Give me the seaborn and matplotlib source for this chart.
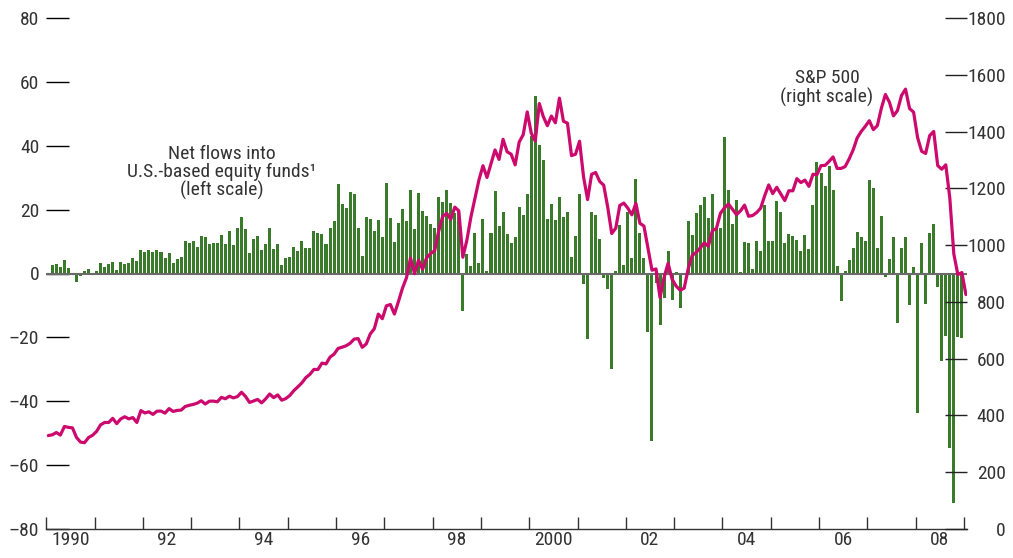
import matplotlib
matplotlib.use('Agg')
import matplotlib.pyplot as plt
import numpy as np
import seaborn as sns

# net flows into U.S.-based equity funds, billions of US$, monthly Jan 1990 - Dec 2008
flows = [
    0.3, 2.7, 3.0, 2.1, 4.3, 1.8, 0.0, -2.8, -0.7, 0.8, 1.5, 0.0,          # 1990
    0.8, 3.3, 2.1, 3.0, 3.6, 1.1, 3.6, 3.0, 3.3, 4.9, 4.0, 7.4,            # 1991
    6.8, 7.4, 6.8, 7.4, 6.8, 4.9, 6.5, 3.3, 4.6, 5.2, 10.2, 9.6,           # 1992
    10.2, 8.3, 11.8, 11.5, 9.1, 9.4, 9.7, 12.2, 9.1, 13.4, 8.8, 14.4,      # 1993
    17.8, 13.8, 6.3, 10.9, 11.6, 7.5, 9.1, 14.1, 7.8, 9.1, 2.8, 5.0,       # 1994
    5.3, 8.4, 7.2, 10.3, 8.1, 8.1, 13.4, 12.8, 12.5, 9.1, 14.1, 16.3,      # 1995
    28.1, 21.9, 20.6, 25.6, 25.0, 14.4, 5.6, 17.8, 17.2, 13.4, 16.9, 11.3, # 1996
    28.4, 17.5, 10.0, 15.9, 20.3, 16.3, 26.3, 13.8, 25.3, 19.7, 18.1, 15.6, # 1997
    14.1, 24.1, 22.5, 26.3, 22.0, 19.0, 20.0, -11.6, 6.2, 2.5, 12.8, 3.4,  # 1998
    17.2, 0.9, 12.8, 25.9, 15.0, 19.1, 12.5, 9.7, 11.3, 20.9, 18.4, 25.0,  # 1999
    43.0, 55.6, 40.3, 35.6, 17.2, 21.9, 16.9, 24.1, 17.8, 19.4, 5.3, 11.6, # 2000
    25.0, -3.2, -20.5, 19.1, 18.4, 10.9, -1.5, -4.9, -29.9, 0.9, 15.3, 2.8, # 2001
    19.4, 4.7, 29.7, 12.8, 5.0, -18.3, -52.4, -3.0, -16.1, -7.8, 6.9, -8.3, # 2002
    0.5, -10.9, 0.3, 16.3, 11.9, 18.8, 21.6, 23.8, 17.5, 25.0, 14.4, 14.4, # 2003
    42.8, 26.3, 15.6, 23.1, 0.6, 10.0, 9.4, 1.3, 10.3, 7.2, 21.6, 10.3,    # 2004
    10.3, 22.8, 19.1, 9.4, 12.5, 11.6, 10.6, 6.9, 11.9, 7.8, 21.6, 35.0,   # 2005
    31.6, 27.5, 33.8, 26.3, 2.5, -8.6, 0.9, 4.1, 8.1, 13.1, 11.3, 10.3,    # 2006
    29.4, 26.9, 8.1, 18.1, -1.1, 4.4, 11.3, -15.5, 8.1, 11.3, -9.9, 1.9,   # 2007
    -43.6, 9.7, -9.6, 12.8, 15.6, -4.3, -27.4, -19.6, -54.6, -72.0, -19.9, -20.2,  # 2008
]

# S&P 500 month-end level, Jan 1990 - Jan 2009
sp500 = [
    329.1, 331.9, 339.9, 330.8, 361.2, 358.0, 356.2, 322.6, 306.1, 304.0, 322.2, 330.2,
    343.9, 367.1, 375.2, 375.3, 389.8, 371.2, 387.8, 395.4, 387.9, 392.5, 375.2, 417.1,
    408.8, 412.7, 403.7, 414.9, 415.4, 408.1, 424.2, 414.0, 417.8, 418.7, 431.4, 435.7,
    438.8, 443.4, 451.7, 440.2, 450.2, 450.5, 448.1, 463.6, 458.9, 467.8, 461.8, 466.5,
    481.6, 467.1, 445.8, 450.9, 456.5, 444.3, 458.3, 475.5, 462.7, 472.4, 453.7, 459.3,
    470.4, 487.4, 500.7, 514.7, 533.4, 544.8, 562.1, 561.9, 584.4, 581.5, 605.4, 615.9,
    636.0, 640.4, 645.5, 654.2, 669.1, 670.6, 639.9, 651.9, 687.3, 705.3, 757.0, 740.7,
    786.2, 790.8, 757.1, 801.3, 848.3, 885.1, 954.3, 899.5, 947.3, 914.6, 955.4, 970.4,
    980.3, 1049.3, 1101.8, 1111.8, 1090.8, 1133.8, 1120.7, 957.3, 1017.0, 1098.7, 1163.6, 1229.2,
    1279.6, 1238.3, 1286.4, 1335.2, 1301.8, 1372.7, 1328.7, 1320.4, 1282.7, 1362.9, 1388.9, 1469.3,
    1394.5, 1366.4, 1498.6, 1452.4, 1420.6, 1454.6, 1430.8, 1517.7, 1436.5, 1429.4, 1315.2, 1320.3,
    1366.0, 1239.9, 1160.3, 1249.5, 1255.8, 1224.4, 1211.2, 1133.6, 1040.9, 1059.8, 1139.5, 1148.1,
    1130.2, 1106.7, 1147.4, 1076.9, 1067.1, 989.8, 911.6, 916.1, 815.3, 885.8, 936.3, 879.8,
    855.7, 841.2, 848.2, 916.9, 963.6, 974.5, 990.3, 1008.0, 996.0, 1050.7, 1058.2, 1111.9,
    1131.1, 1144.9, 1126.2, 1107.3, 1120.7, 1140.8, 1101.7, 1104.2, 1114.6, 1130.2, 1173.8, 1211.9,
    1181.3, 1203.6, 1180.6, 1156.9, 1191.5, 1191.3, 1234.2, 1220.3, 1228.8, 1207.0, 1249.5, 1248.3,
    1280.1, 1280.7, 1294.8, 1310.6, 1270.1, 1270.2, 1276.7, 1303.8, 1335.9, 1377.9, 1400.6, 1418.3,
    1438.2, 1406.8, 1420.9, 1482.4, 1530.6, 1503.4, 1455.3, 1473.9, 1527.0, 1549.4, 1481.1, 1468.4,
    1378.6, 1330.6, 1322.7, 1385.6, 1400.4, 1280.0, 1267.4, 1282.8, 1166.4, 968.8, 896.2, 903.3,
    825.9,
]

n_years = 20
year_labels = ['1990', '92', '94', '96', '98', '2000', '02', '04', '06', '08']
left_ticks = [80, 60, 40, 20, 0, -20, -40, -60, -80]
right_ticks = list(range(0, 1801, 200))

GREEN = '#3a7b2b'
MAGENTA = '#cc0a6e'
TEXT = '#333333'

sns.set_style('white')
plt.rcParams['font.family'] = ['Roboto Condensed', 'DejaVu Sans']
plt.rcParams['font.size'] = 14

fig = plt.figure(figsize=(10.13, 5.58), dpi=100)
ax = fig.add_axes([46.3 / 1013, 29 / 558, 920.4 / 1013, 511 / 558])

months = np.arange(len(flows))
sns.barplot(x=months, y=flows, color=GREEN, saturation=1, width=0.75,
            linewidth=0, ax=ax, zorder=2)
ax.axhline(0, color='#6a6a6a', lw=1.5, zorder=3)

ax2 = ax.twinx()
sns.lineplot(x=np.arange(len(sp500)), y=sp500, color=MAGENTA, lw=2.3, ax=ax2)

ax.set_xlim(-0.5, 228.2)
ax.set_ylim(-80, 80)
ax2.set_ylim(0, 1800)

for a in (ax, ax2):
    for side in ('top', 'left', 'right'):
        a.spines[side].set_visible(False)
    a.set_xlabel('')
    a.set_ylabel('')
ax2.spines['bottom'].set_visible(False)
ax.spines['bottom'].set_color('#333333')
ax.spines['bottom'].set_linewidth(1.0)

# x axis: ticks at year boundaries, labels centred on even years
ax.set_xticks([12 * k - 0.5 for k in range(n_years)])
ax.set_xticklabels([])
ax.set_xticks([12 * k + 5.5 for k in range(0, n_years, 2)], minor=True)
ax.set_xticklabels(year_labels, minor=True)
ax.tick_params(axis='x', which='major', direction='in', length=8.5, width=1,
               color='#333333', bottom=True)
ax.tick_params(axis='x', which='minor', length=0, pad=1.5, labelcolor=TEXT, bottom=True)

ax.set_yticks(left_ticks)
ax.set_yticklabels([str(v).replace('-', '\u2013') for v in left_ticks])
ax.tick_params(axis='y', direction='in', length=16.5, width=1, color='black',
               pad=5, labelcolor=TEXT, left=True)

ax2.set_yticks(right_ticks)
ax2.set_yticklabels([str(v) for v in right_ticks])
ax2.tick_params(axis='y', direction='in', length=16, width=1, color='#222222',
                pad=28, labelcolor=TEXT, right=True)
for lab in ax2.get_yticklabels():
    lab.set_horizontalalignment('right')

fig.text(222 / 1013, 1 - 172.5 / 558, 'Net flows into\nU.S.-based equity funds\u00b9\n(left scale)',
         ha='center', va='center', color=TEXT, linespacing=0.97)
fig.text(827 / 1013, 1 - 88 / 558, 'S&P 500\n(right scale)',
         ha='center', va='center', color=TEXT, linespacing=1.12)

fig.savefig('out.png', dpi=100)
